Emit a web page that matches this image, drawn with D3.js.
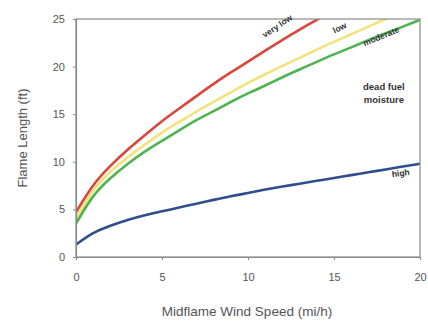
<!DOCTYPE html>
<html>
<head>
<meta charset="utf-8">
<script src="https://cdn.jsdelivr.net/npm/d3@7"></script>
<style>
  body { margin: 0; background: #fff; }
  svg { font-family: "Liberation Sans", Arial, sans-serif; }
</style>
</head>
<body>
<div id="chart"></div>
<script>
// wind speed (mi/h) at which each value was read
const windSpeed = [0, 1, 2, 3, 4, 5, 6, 7, 8, 9, 10, 11, 12, 13, 14, 15, 16, 17, 18, 19, 20];

// flame length (ft) for each dead fuel moisture class
const veryLow = [4.7, 7.7, 9.6, 11.3, 12.8, 14.3, 15.6, 16.9, 18.2, 19.4, 20.5, 21.7, 22.8, 23.9, 24.9, 26.0];
const low = [4.0, 7.2, 9.0, 10.5, 11.8, 13.1, 14.2, 15.3, 16.3, 17.3, 18.3, 19.2, 20.1, 20.9, 21.8, 22.6, 23.4, 24.2, 25.0, 25.8];
const moderate = [3.5, 6.6, 8.3, 9.8, 11.1, 12.2, 13.3, 14.4, 15.3, 16.3, 17.2, 18.0, 18.9, 19.7, 20.5, 21.3, 22.0, 22.8, 23.5, 24.2, 24.9];
const high = [1.3, 2.6, 3.3, 3.9, 4.4, 4.8, 5.2, 5.6, 6.0, 6.4, 6.7, 7.1, 7.4, 7.7, 8.0, 8.3, 8.6, 8.9, 9.2, 9.5, 9.8];

const xTicks = [0, 5, 10, 15, 20];
const yTicks = [0, 5, 10, 15, 20, 25];

const series = [
  { name: "very low", values: veryLow, color: "#d9473b" },
  { name: "low", values: low, color: "#f4e27c" },
  { name: "moderate", values: moderate, color: "#4db450" },
  { name: "high", values: high, color: "#2e4d8a" }
];

const width = 428, height = 323;
const margin = { left: 76, right: 8, top: 19, bottom: 66 };

const svg = d3.select("#chart").append("svg")
  .attr("width", width)
  .attr("height", height);

const x = d3.scaleLinear().domain([0, 20]).range([margin.left, width - margin.right]);
const y = d3.scaleLinear().domain([0, 25]).range([height - margin.bottom, margin.top]);

svg.append("clipPath").attr("id", "plot")
  .append("rect")
  .attr("x", x(0)).attr("y", y(25))
  .attr("width", x(20) - x(0)).attr("height", y(0) - y(25));

const line = d3.line()
  .x((d, i) => x(windSpeed[i]))
  .y(d => y(d))
  .curve(d3.curveBasis);

svg.append("g").attr("clip-path", "url(#plot)")
  .selectAll("path")
  .data(series)
  .join("path")
  .attr("fill", "none")
  .attr("stroke", d => d.color)
  .attr("stroke-width", 2.6)
  .attr("d", d => line(d.values));

// frame
svg.append("rect")
  .attr("x", x(0)).attr("y", y(25))
  .attr("width", x(20) - x(0)).attr("height", y(0) - y(25))
  .attr("fill", "none")
  .attr("stroke", "#8a8a8a")
  .attr("stroke-width", 1.2);

const xAxis = svg.append("g")
  .attr("transform", `translate(0,${y(0)})`)
  .call(d3.axisBottom(x).tickValues(xTicks).tickSize(3).tickPadding(13));
const yAxis = svg.append("g")
  .attr("transform", `translate(${x(0)},0)`)
  .call(d3.axisLeft(y).tickValues(yTicks).tickSize(3).tickPadding(8));

[xAxis, yAxis].forEach(g => {
  g.select(".domain").attr("stroke", "#8a8a8a").attr("stroke-width", 1.2);
  g.selectAll(".tick line").attr("stroke", "#8a8a8a");
  g.selectAll(".tick text").attr("fill", "#555").attr("font-size", 11);
});

svg.append("text")
  .attr("x", 247).attr("y", 316)
  .attr("text-anchor", "middle")
  .attr("font-size", 13.5)
  .attr("fill", "#555")
  .text("Midflame Wind Speed (mi/h)");

svg.append("text")
  .attr("transform", `translate(27,${(y(0) + y(25)) / 2}) rotate(-90)`)
  .attr("text-anchor", "middle")
  .attr("font-size", 13)
  .attr("fill", "#555")
  .text("Flame Length (ft)");

// curve labels
const labels = [
  { text: "very low", wx: 11.8, wy: 24.0, angle: -34 },
  { text: "low", wx: 15.4, wy: 23.8, angle: -26 },
  { text: "moderate", wx: 17.8, wy: 22.9, angle: -22 },
  { text: "high", wx: 18.9, wy: 8.5, angle: -8 }
];
svg.selectAll(".lbl")
  .data(labels)
  .join("text")
  .attr("class", "lbl")
  .attr("transform", d => `translate(${x(d.wx)},${y(d.wy)}) rotate(${d.angle})`)
  .attr("text-anchor", "middle")
  .attr("font-size", 8.5)
  .attr("font-weight", "bold")
  .attr("fill", "#333")
  .text(d => d.text);

const note = svg.append("text")
  .attr("text-anchor", "middle")
  .attr("font-size", 9.5)
  .attr("font-weight", "bold")
  .attr("fill", "#333");
note.append("tspan").attr("x", x(17.9)).attr("y", y(17.5)).text("dead fuel");
note.append("tspan").attr("x", x(17.9)).attr("dy", 13).text("moisture");
</script>
</body>
</html>
